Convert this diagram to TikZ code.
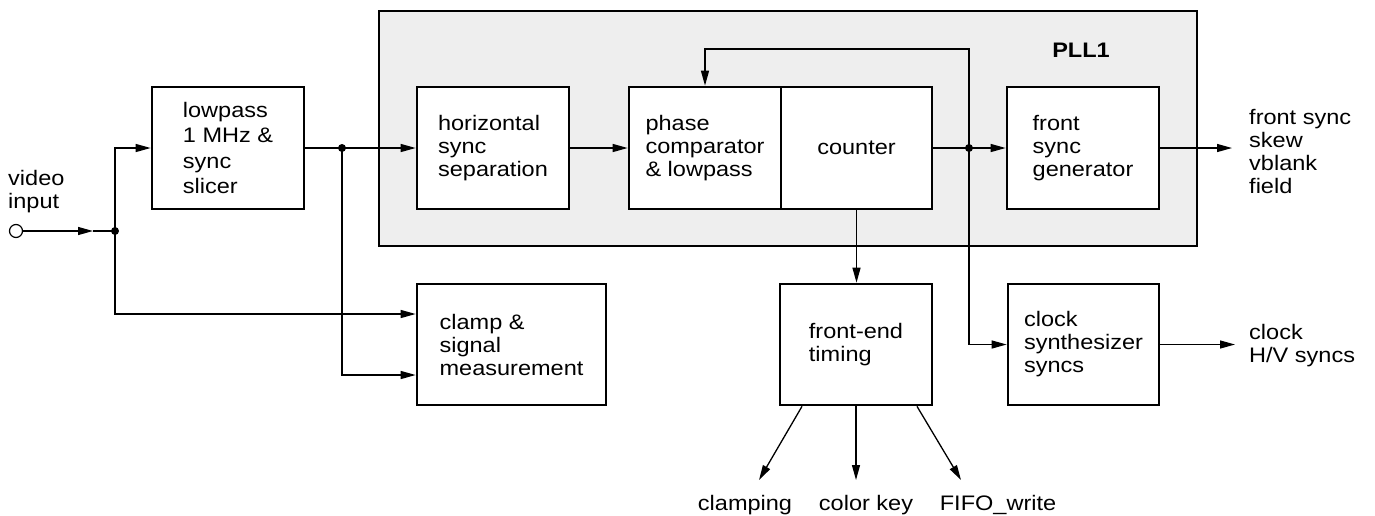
\documentclass[tikz,border=0pt]{standalone}
\usepackage{fontspec}
\setmainfont{Liberation Sans}[FakeStretch=1.12]
\usetikzlibrary{arrows.meta,calc}
\tikzset{
  every node/.append style={font=\fontsize{21pt}{23pt}\selectfont},
  blk/.style={draw, line width=2.7pt, fill=white, minimum width=152pt, minimum height=122pt, inner sep=0pt, align=left},
  arr/.style={line width=1.3pt, -{Triangle[length=15pt,width=8pt]}},
  conn/.style={line width=1.3pt},
  lbl/.style={inner sep=0pt, align=left}
}
\begin{document}
\begin{tikzpicture}[x=1pt,y=-1pt]
\useasboundingbox (0,0) rectangle (1375,515);
% PLL frame
\node[draw, line width=2.7pt, fill={rgb,255:red,238;green,238;blue,238}, minimum width=818pt, minimum height=235pt, inner sep=0pt] (pll) at (788,128.5) {};
\node[anchor=base, inner sep=0pt, font=\fontsize{21pt}{23pt}\selectfont\bfseries] (pllt) at (1081,57) {PLL1};
% blocks
\node[blk, font=\fontsize{21pt}{25.5pt}\selectfont] (lp) at (228,148) {lowpass\\1 MHz \&\\sync\\slicer};
\node[blk] (hs) at (493,148) {horizontal\\sync\\separation};
\node[blk] (ph) at (705,148) {phase\\comparator\\\& lowpass};
\node[blk, minimum width=151pt] (cnt) at (856.5,148) {counter};
\node[blk] (fs) at (1083,148) {front\\sync\\generator};
\node[blk, minimum width=189pt, minimum height=121pt] (cl) at (511.5,344.5) {clamp \&\\signal\\measurement};
\node[blk, minimum height=121pt] (fe) at (856,344.5) {front-end\\timing};
\node[blk, minimum width=151pt, minimum height=121pt] (ck) at (1083.5,344.5) {clock\\synthesizer\\syncs};
% input
\node[draw, circle, line width=1.2pt, fill=white, minimum size=13pt, inner sep=0pt] (in) at (16,231) {};
\node[lbl, anchor=west] (inl) at (8,191.5) {video\\input};
\coordinate (inmid) at (93,231);
\coordinate (j1) at (115,231);
\coordinate (j2) at (342,148);
\coordinate (j3) at (969,148);
\coordinate (fbtop) at (969,49);
\draw[arr] (in) -- (inmid);
\draw[conn] (inmid) -- (j1);
\draw[arr] (j1) |- (lp.west);
\draw[arr] (j1) |- ([yshift=30.5pt]cl.west);
\draw[arr] (lp) -- (hs);
\draw[arr] (j2) |- ([yshift=-30.5pt]cl.west);
\draw[arr] (hs) -- (ph);
\draw[arr] (cnt) -- (fs);
\draw[arr] (j3) -- (fbtop) -| (ph.north);
\draw[arr] (j3) |- (ck.west);
\draw[arr] (cnt.south) -- (cnt.south |- fe.north);
\foreach \j in {j1,j2,j3} \fill (\j) circle (4pt);
% outputs
\coordinate (o1) at (1232,148);
\coordinate (o2) at (1235,344.5);
\draw[arr] (fs) -- (o1);
\draw[arr] (ck) -- (o2);
\node[lbl, anchor=west] (o1l) at (1249,151) {front sync\\skew\\vblank\\field};
\node[lbl, anchor=west] (o2l) at (1249,346) {clock\\H/V syncs};
% bottom outputs
\coordinate (b1) at (759,480);
\coordinate (b2) at (856,480);
\coordinate (b3) at (961,480);
\draw[arr] ([xshift=-54pt]fe.south) -- (b1);
\draw[arr] (fe.south) -- (b2);
\draw[arr] ([xshift=61pt]fe.south) -- (b3);
\node[anchor=base, inner sep=0pt] (l1) at (745,510) {clamping};
\node[anchor=base, inner sep=0pt] (l2) at (866,510) {color key};
\node[anchor=base, inner sep=0pt] (l3) at (998,510) {FIFO\_write};
\end{tikzpicture}
\end{document}
